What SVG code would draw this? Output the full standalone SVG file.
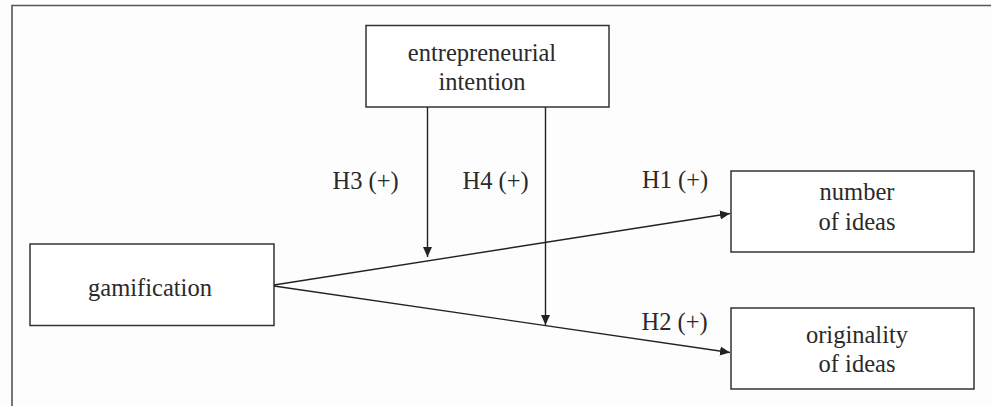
<svg xmlns="http://www.w3.org/2000/svg" width="991" height="406" viewBox="0 0 991 406">
<style>
.box{fill:#fff;stroke:#333;stroke-width:1.5}
.lbl{font-family:"Liberation Serif","Times New Roman",serif;font-size:24.5px;fill:#2a2a2a}
.c{text-anchor:middle}
.ln{stroke:#222;stroke-width:1.4;fill:none;marker-end:url(#ah)}
</style>
<defs>
<marker id="ah" viewBox="0 0 10 10" refX="10" refY="5" markerWidth="10" markerHeight="10" markerUnits="userSpaceOnUse" orient="auto">
<path d="M0,0.5 L10,5 L0,9.5 Z" fill="#222"/>
</marker>
</defs>
<rect x="0" y="0" width="991" height="406" fill="#fdfdfd"/>
<path d="M12,406 V5.5 H991" fill="none" stroke="#555" stroke-width="1.6"/>
<g id="entrepreneurial-intention">
<rect class="box" x="366" y="25.5" width="243" height="81.5"/>
<text class="lbl c" x="482" y="60.5">entrepreneurial</text>
<text class="lbl c" x="482" y="90">intention</text>
</g>
<g id="gamification">
<rect class="box" x="30" y="244" width="244" height="81.5"/>
<text class="lbl c" x="150" y="295.5">gamification</text>
</g>
<g id="number-of-ideas">
<rect class="box" x="731" y="171" width="243" height="81"/>
<text class="lbl c" x="857" y="200">number</text>
<text class="lbl c" x="857" y="229.5">of ideas</text>
</g>
<g id="originality-of-ideas">
<rect class="box" x="731" y="308" width="243" height="81"/>
<text class="lbl c" x="857" y="343">originality</text>
<text class="lbl c" x="857" y="372">of ideas</text>
</g>
<g id="connectors">
<line class="ln" x1="274" y1="285" x2="730" y2="213.5"/>
<line class="ln" x1="274" y1="286" x2="730" y2="352.5"/>
<line class="ln" x1="427.5" y1="107" x2="427.5" y2="257"/>
<line class="ln" x1="545.5" y1="107" x2="545.5" y2="325"/>
</g>
<g id="labels">
<text class="lbl" x="332.5" y="188.5">H3 (+)</text>
<text class="lbl" x="462.5" y="189">H4 (+)</text>
<text class="lbl" x="642" y="188">H1 (+)</text>
<text class="lbl" x="641.5" y="330">H2 (+)</text>
</g>
</svg>
